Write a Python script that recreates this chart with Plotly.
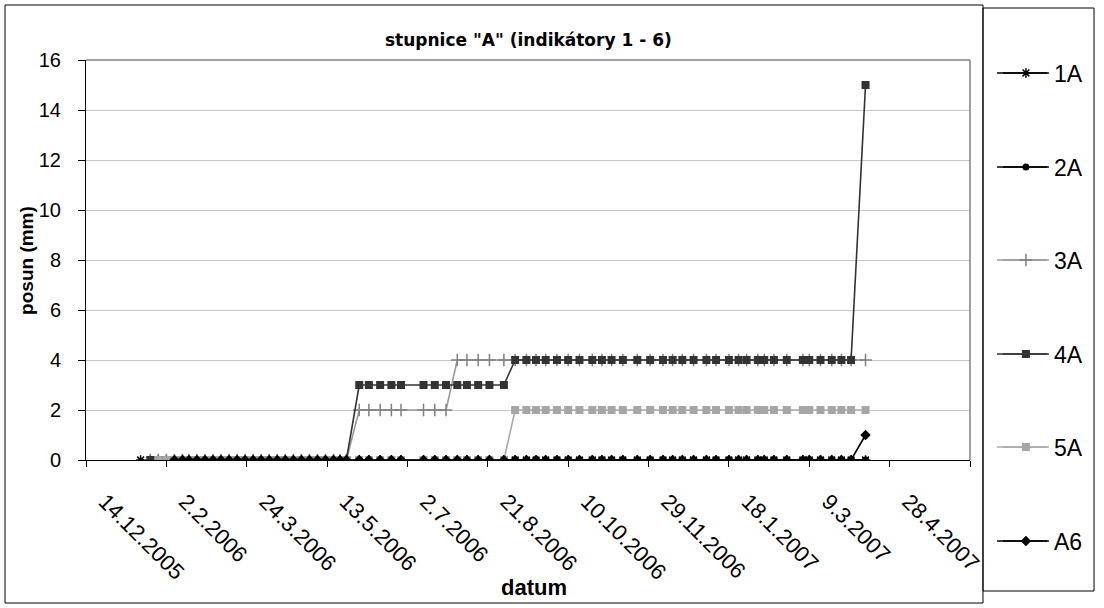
import plotly.graph_objects as go

# measurement dates
dates = [
    "2006-01-17", "2006-01-23", "2006-01-28", "2006-02-02", "2006-02-07", "2006-02-12",
    "2006-02-16", "2006-02-21", "2006-02-26", "2006-03-03", "2006-03-08", "2006-03-13",
    "2006-03-18", "2006-03-23", "2006-03-28", "2006-04-02", "2006-04-07", "2006-04-12",
    "2006-04-17", "2006-04-22", "2006-04-27", "2006-05-02", "2006-05-07", "2006-05-12",
    "2006-05-17", "2006-05-21", "2006-05-25",
    "2006-06-02", "2006-06-08", "2006-06-15", "2006-06-22", "2006-06-28", "2006-07-12",
    "2006-07-19", "2006-07-26", "2006-08-02", "2006-08-08", "2006-08-15", "2006-08-22",
    "2006-08-31",
    "2006-09-07", "2006-09-14", "2006-09-20", "2006-09-26", "2006-10-03", "2006-10-10",
    "2006-10-17", "2006-10-25", "2006-10-31", "2006-11-06", "2006-11-13", "2006-11-22",
    "2006-11-30", "2006-12-08", "2006-12-14", "2006-12-20", "2006-12-27", "2007-01-04",
    "2007-01-10", "2007-01-18", "2007-01-24", "2007-01-29", "2007-02-05", "2007-02-09",
    "2007-02-15", "2007-02-23", "2007-03-05", "2007-03-09", "2007-03-16", "2007-03-23",
    "2007-03-29", "2007-04-04", "2007-04-13",
]

N0 = None
s_1A = [0] * 27 + [0] * 13 + [0] * 32 + [0]
s_2A = [N0] + [0] * 26 + [0] * 13 + [0] * 32 + [0]
s_3A = [N0] + [0] * 26 + [2] * 8 + [4] * 5 + [4] * 32 + [4]
s_4A = [N0] + [0] * 26 + [3] * 13 + [4] * 32 + [15]
s_5A = [N0, N0] + [0] * 25 + [0] * 13 + [2] * 32 + [2]
s_A6 = [N0, N0, N0, N0] + [0] * 23 + [0] * 13 + [0] * 32 + [1]

series = [
    ("1A", s_1A, "#000000", "#000000", "asterisk-open", 8),
    ("2A", s_2A, "#000000", "#000000", "circle", 7),
    ("3A", s_3A, "#9a9a9a", "#808080", "cross-thin-open", 9),
    ("4A", s_4A, "#333333", "#333333", "square", 8),
    ("5A", s_5A, "#aaaaaa", "#a6a6a6", "square", 8),
    ("A6", s_A6, "#000000", "#000000", "diamond", 8),
]

tick_dates = ["2005-12-14", "2006-02-02", "2006-03-24", "2006-05-13", "2006-07-02",
              "2006-08-21", "2006-10-10", "2006-11-29", "2007-01-18", "2007-03-09",
              "2007-04-28", "2007-06-17"]
tick_text = ["14.12.2005", "2.2.2006", "24.3.2006", "13.5.2006", "2.7.2006",
             "21.8.2006", "10.10.2006", "29.11.2006", "18.1.2007", "9.3.2007",
             "28.4.2007", ""]

FONT = "Liberation Sans, Arial, sans-serif"

# one legend per series, stacked down the right-hand panel
legend_y = [0.9675, 0.7325, 0.5, 0.265, 0.0325, -0.2025]
legend_ids = ["legend", "legend2", "legend3", "legend4", "legend5", "legend6"]

fig = go.Figure()
for (name, vals, lcol, mcol, sym, size), lid in zip(series, legend_ids):
    open_sym = sym.endswith("open")
    fig.add_trace(go.Scatter(
        x=dates, y=vals, name=name, mode="lines+markers", legend=lid,
        line=dict(color=lcol, width=1.6),
        marker=dict(symbol=sym, size=size, color=mcol,
                    line=dict(color=mcol, width=1.5 if open_sym else 0)),
        connectgaps=False,
    ))

legend_layout = {}
for lid, ly in zip(legend_ids, legend_y):
    legend_layout[lid] = dict(x=1.0316, y=ly, xanchor="left", yanchor="middle",
                              itemwidth=46,
                              font=dict(size=23, family=FONT, color="black"),
                              bgcolor="rgba(0,0,0,0)", borderwidth=0)

shapes = [
    # plot area frame (top and right)
    dict(type="line", xref="paper", yref="paper", x0=0, x1=1, y0=1, y1=1,
         line=dict(color="#808080", width=1.5)),
    dict(type="line", xref="paper", yref="paper", x0=1, x1=1, y0=0, y1=1,
         line=dict(color="#808080", width=1.5)),
    # outer chart frame
    dict(type="rect", xref="paper", yref="paper",
         x0=-0.0916, x1=1.0147, y0=-0.3575, y1=1.1375,
         line=dict(color="black", width=1)),
    # legend frame
    dict(type="rect", xref="paper", yref="paper",
         x0=1.0147, x1=1.1403, y0=-0.3275, y1=1.13,
         line=dict(color="black", width=1)),
]
# longer sample lines behind the legend symbols
for (name, vals, lcol, mcol, sym, size), ly in zip(series, legend_y):
    shapes.append(dict(type="line", xref="paper", yref="paper",
                       x0=1.0305, x1=1.0871, y0=ly, y1=ly,
                       line=dict(color=lcol, width=1.6)))

fig.update_layout(
    width=1104, height=608,
    margin=dict(l=86, r=134, t=60, b=148),
    paper_bgcolor="white", plot_bgcolor="white",
    font=dict(family=FONT, color="black", size=18),
    showlegend=True,
    xaxis=dict(type="date", range=["2005-12-14", "2007-06-17"],
               tickmode="array", tickvals=tick_dates, ticktext=tick_text,
               tickangle=45, ticks="outside", ticklen=6, tickcolor="black",
               ticklabelstandoff=13, ticklabelshift=19,
               showline=True, linecolor="black", linewidth=1,
               showgrid=False, zeroline=False,
               tickfont=dict(size=22, family=FONT)),
    yaxis=dict(range=[0, 16], dtick=2, tick0=0, ticks="outside", ticklen=7,
               tickcolor="black", showline=True, linecolor="black", linewidth=1,
               ticklabelstandoff=13,
               showgrid=True, gridcolor="#c8c8c8", gridwidth=1, zeroline=False,
               tickfont=dict(size=20, family=FONT)),
    annotations=[
        dict(text="<b>stupnice \"A\" (indikátory 1 - 6)</b>", x=0.5, y=1.05,
             xref="paper", yref="paper", showarrow=False,
             font=dict(size=17, family="DejaVu Sans, sans-serif"),
             xanchor="center", yanchor="middle"),
        dict(text="<b>datum</b>", x=0.507, y=-0.3175, xref="paper", yref="paper",
             showarrow=False, font=dict(size=22, family=FONT),
             xanchor="center", yanchor="middle"),
        dict(text="<b>posun (mm)</b>", x=-0.068, y=0.5, xref="paper", yref="paper",
             showarrow=False, textangle=-90, font=dict(size=19, family=FONT),
             xanchor="center", yanchor="middle"),
    ],
    shapes=shapes,
    **legend_layout,
)

fig.write_html("out.html")
